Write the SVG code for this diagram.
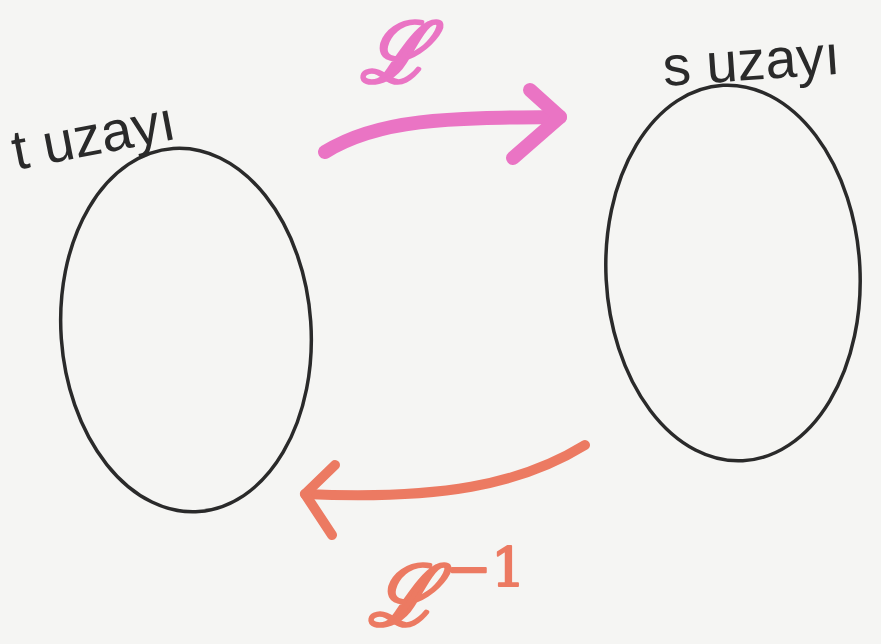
<svg xmlns="http://www.w3.org/2000/svg" width="881" height="644" viewBox="0 0 881 644">
<style>
.space{fill:none;stroke:#2a2a2a;stroke-width:3.5}
.lbl{font-family:"Liberation Sans",sans-serif;fill:#2a2a2a;font-size:56px}
.fwd{fill:none;stroke:#ea74c4;stroke-width:14;stroke-linecap:round;stroke-linejoin:round}
.inv{fill:none;stroke:#ec7a62;stroke-width:10;stroke-linecap:round;stroke-linejoin:round}
.sym{font-family:"DejaVu Serif",serif;font-style:italic;stroke-width:4;stroke-linejoin:round}
</style>
<rect width="881" height="644" fill="#f5f5f3"/>
<g id="t-space">
<ellipse class="space" cx="186" cy="330" rx="125" ry="182" transform="rotate(-4 186 330)"/>
<text class="lbl" x="16" y="170" transform="rotate(-11 16 170)">t uzayı</text>
</g>
<g id="s-space">
<ellipse class="space" cx="733" cy="273" rx="127" ry="188" transform="rotate(-3 733 273)"/>
<text class="lbl" x="664" y="86" transform="rotate(-4 664 86)">s uzayı</text>
</g>
<g id="connectors">
<g id="forward">
<path class="fwd" d="M325 152 C380 118 450 118 560 117"/>
<path class="fwd" d="M530 90 L560 117 L513 158"/>
<text class="sym" x="360" y="82" font-size="84" fill="#ea74c4" stroke="#ea74c4">ℒ</text>
</g>
<g id="inverse">
<path class="inv" d="M585 445 C520 485 440 500 305 494"/>
<path class="inv" d="M335 465 L305 494 L332 535"/>
<text class="sym" x="368" y="625" font-size="84" fill="#ec7a62" stroke="#ec7a62">ℒ<tspan dx="8" dy="-38" font-size="54" font-style="normal" stroke-width="2">−1</tspan></text>
</g>
</g>
</svg>
